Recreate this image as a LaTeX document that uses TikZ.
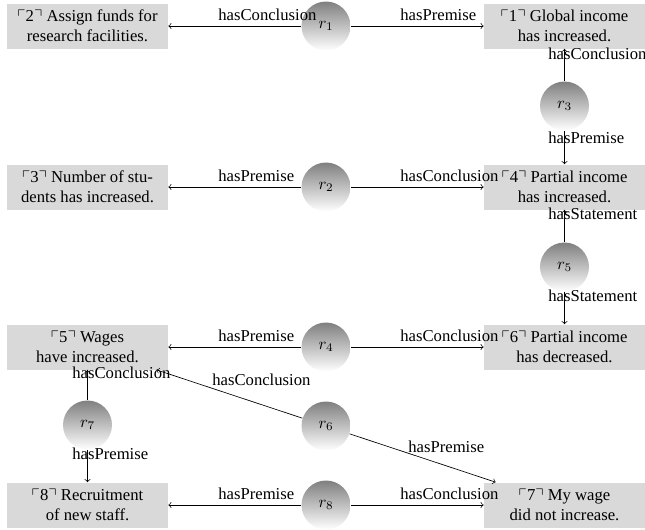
\documentclass[tikz,border=0pt]{standalone}
\usepackage{amssymb}
\usepackage[no-math]{fontspec}
\setmainfont{Liberation Serif}
\usetikzlibrary{arrows}

\begin{document}
\begin{tikzpicture}[x=0.6pt, y=-0.6pt,
  stmt/.style={fill=gray!30, minimum width=96.6pt, minimum height=27pt, inner sep=0pt, align=center},
  reason/.style={circle, top color=gray, bottom color=white, minimum size=29.4pt, inner sep=0pt},
  rel/.style={anchor=base west, inner sep=0pt}]
\useasboundingbox (0,0) rectangle (645,529);

% statements
\node[stmt] (s1) at (564.5,26) {$\ulcorner$1$\urcorner$ Global income\\has increased.};
\node[stmt] (s2) at (87.5,26) {$\ulcorner$2$\urcorner$ Assign funds for\\research facilities.};
\node[stmt] (s3) at (87.5,187) {$\ulcorner$3$\urcorner$ Number of stu-\\dents has increased.};
\node[stmt] (s4) at (564.5,187) {$\ulcorner$4$\urcorner$ Partial income\\has increased.};
\node[stmt] (s5) at (87.5,347) {$\ulcorner$5$\urcorner$ Wages\\have increased.};
\node[stmt] (s6) at (564.5,347) {$\ulcorner$6$\urcorner$ Partial income\\has decreased.};
\node[stmt] (s7) at (564.5,505) {$\ulcorner$7$\urcorner$ My wage\\did not increase.};
\node[stmt] (s8) at (87.5,505) {$\ulcorner$8$\urcorner$ Recruitment\\of new staff.};

% reasons
\node[reason] (r1) at (326,26) {$r_1$};
\node[reason] (r2) at (326,187) {$r_2$};
\node[reason] (r3) at (564.5,106) {$r_3$};
\node[reason] (r4) at (326,347) {$r_4$};
\node[reason] (r5) at (564.5,267) {$r_5$};
\node[reason] (r6) at (326,426) {$r_6$};
\node[reason] (r7) at (87.5,425) {$r_7$};
\node[reason] (r8) at (326,505) {$r_8$};

% horizontal links
\foreach \r/\a/\b/\y/\lt/\rt in {1/2/1/26/hasConclusion/hasPremise,
                                 2/3/4/187/hasPremise/hasConclusion,
                                 4/5/6/347/hasPremise/hasConclusion,
                                 8/8/7/505/hasPremise/hasConclusion} {
 \draw[->] (r\r) -- (s\a);
 \draw[->] (r\r) -- (s\b);
 \node[rel] (la\r) at (218,\y-5.5) {\lt};
 \node[rel] (lb\r) at (400,\y-5.5) {\rt};
}

% vertical links
\draw[->] (r3) -- (s1);
\draw[->] (r3) -- (s4);
\draw[->] (r5) -- (s4);
\draw[->] (r5) -- (s6);
\draw[->] (r7) -- (s5);
\draw[->] (r7) -- (s8);
\node[rel] (la3) at (548,59) {hasConclusion};
\node[rel] (lb3) at (548,143) {hasPremise};
\node[rel] (la5) at (548,219) {hasStatement};
\node[rel] (lb5) at (548,301) {hasStatement};
\node[rel] (la7) at (72,378) {hasConclusion};
\node[rel] (lb7) at (72,459) {hasPremise};

% diagonal links
\draw[->] (r6) -- (s5);
\draw[->] (r6) -- (s7);
\node[rel] (la6) at (212,385) {hasConclusion};
\node[rel] (lb6) at (408,452) {hasPremise};
\end{tikzpicture}
\end{document}
